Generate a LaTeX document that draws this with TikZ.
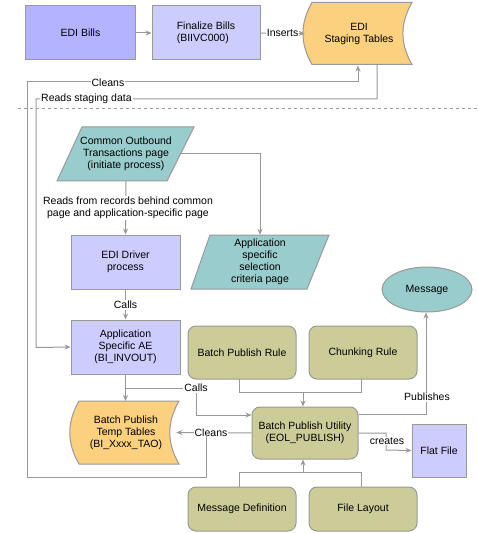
\documentclass[tikz,border=0pt]{standalone}
\usepackage{fontspec}
\setmainfont{Liberation Sans}
\usetikzlibrary{arrows.meta,shapes.geometric}
\definecolor{lnc}{HTML}{999999}
\definecolor{bluA}{HTML}{B3B3FF}
\definecolor{bluB}{HTML}{CCCCFF}
\definecolor{orng}{HTML}{FBD07F}
\definecolor{teal}{HTML}{99CCCC}
\definecolor{olv}{HTML}{CCCC99}
\begin{document}
\begin{tikzpicture}[x=1bp,y=-1bp,
  every node/.style={font=\fontsize{10.5bp}{12bp}\selectfont, inner sep=0pt, align=center},
  box/.style={draw=lnc, line width=1bp, rectangle},
  rbox/.style={draw=lnc, line width=1bp, rectangle, rounded corners=8bp, fill=olv, minimum width=108bp},
  conn/.style={draw=lnc, line width=1bp},
  arr/.style={conn, -{Stealth[length=6bp,width=5bp]}},
  lbl/.style={fill=white, inner sep=1bp},
  shp/.style={draw=lnc, line width=1bp}]
\useasboundingbox (0,0) rectangle (478,533);

% ---- top row
\node[box, fill=bluA, minimum width=109bp, minimum height=54bp] (bills) at (80.5,33) {EDI Bills};
\node[box, fill=bluB, minimum width=108bp, minimum height=54bp, align=left] (fin) at (206,33) {Finalize Bills\\(BIIVC000)};
% staging tables (stored data shape)
\path[shp, fill=orng] (312,2.5) -- (412,2.5) to[out=240,in=120] (412,64.5) -- (312,64.5) to[out=120,in=240] (312,2.5) -- cycle;
\node[minimum width=108bp, minimum height=62bp] (stg) at (359,33.5) {EDI\\Staging Tables};

% ---- dashed separator
\draw[lnc, line width=1bp, dash pattern=on 3bp off 3bp] (18,109) -- (478,109);

% ---- parallelograms
\path[shp, fill=teal] (82,127) -- (194,127) -- (167,181) -- (57,181) -- cycle;
\node[minimum width=110bp, minimum height=54bp] (cot) at (126,154) {Common Outbound\\Transactions page\\(initiate process)};
\path[shp, fill=teal] (210,235) -- (329,235) -- (307,289) -- (191,289) -- cycle;
\node[minimum width=116bp, minimum height=54bp] (asp) at (260,262) {Application\\specific\\selection\\criteria page};

% ---- boxes
\node[box, fill=bluB, minimum width=109bp, minimum height=54bp] (drv) at (125.5,262) {EDI Driver\\process};
\node[box, fill=bluB, minimum width=109bp, minimum height=54bp] (ae) at (125.5,347) {Application\\Specific AE\\(BI\_INVOUT)};
% temp tables (stored data shape)
\path[shp, fill=orng] (79,401) -- (179,401) to[out=240,in=120] (179,464) -- (79,464) to[out=120,in=240] (79,401) -- cycle;
\node[minimum width=108bp, minimum height=63bp] (tt) at (126,432.5) {Batch Publish\\Temp Tables\\(BI\_Xxxx\_TAO)};

\node[rbox, minimum height=53bp] (bpr) at (242,352.5) {Batch Publish Rule};
\node[rbox, minimum height=53bp] (chr) at (363,352.5) {Chunking Rule};
\node[rbox, minimum width=106bp, minimum height=52bp] (bpu) at (305,433) {Batch Publish Utility\\(EOL\_PUBLISH)};
\node[rbox, minimum height=44bp] (md) at (242,509) {Message Definition};
\node[rbox, minimum height=44bp] (fl) at (363,509) {File Layout};
\node[draw=lnc, line width=1bp, ellipse, fill=teal, minimum width=90bp, minimum height=45bp] (msg) at (427,289.5) {Message};
\node[box, fill=bluB, minimum width=54bp, minimum height=53bp] (ff) at (439,450.5) {Flat File};

% ---- connectors
\draw[arr] (bills.east) -- (fin.west);
\draw[arr] (fin.east) -- node[lbl] {Inserts} (stg.west);

\coordinate (cj) at (206,433);
\draw[arr] (bpu.west) -- ([xshift=-4bp]tt.east);
\node[lbl] (cl2) at (211,433) {Cleans};
\draw[arr] (cj) -- (206,477) -- (27,477) -- (27,82) -- (358,82) -- (358,65.5);
\node[lbl] (cl1) at (108,82.5) {Cleans};

\draw[arr] (377,64.5) -- (377,99) -- (36,99) -- (36,347.5) -- (ae.west);
\node[lbl, anchor=west] (rsd) at (40,99) {Reads staging data};

\draw[arr] (cot.south) -- (drv.north);
\node[lbl] (rfr) at (128,208) {Reads from records behind common\\page and application-specific page};

\draw[arr] (181,154) -- (260,154) -- (asp.north);

\draw[arr] (drv.south) -- (ae.north);
\node[lbl] (cl3) at (125.5,305) {Calls};

\draw[arr] (ae.south) -- (125.5,401);
\draw[arr] (125.5,388) -- (196,388) -- (196,415) -- (bpu.west |- 0,415);
\node[lbl] (cl4) at (196,388) {Calls};

\draw[conn] (239,379) -- (239,392) -- (361,392) -- (361,379);
\draw[arr] (303,392) -- (bpu.north -| 303,0);

\draw[conn] (239,487) -- (239,472) -- (361,472) -- (361,487);
\draw[arr] (303,472) -- (bpu.south -| 303,0);

\draw[arr] (bpu.east |- 0,414) -- (426,414) -- (msg.south -| 426,0);
\node[lbl] (pub) at (427,397) {Publishes};

\draw[arr] (bpu.east |- 0,433) -- (386,433) -- (386,450) -- (ff.west);
\node[lbl] (crt) at (387,441) {creates};
\end{tikzpicture}
\end{document}
